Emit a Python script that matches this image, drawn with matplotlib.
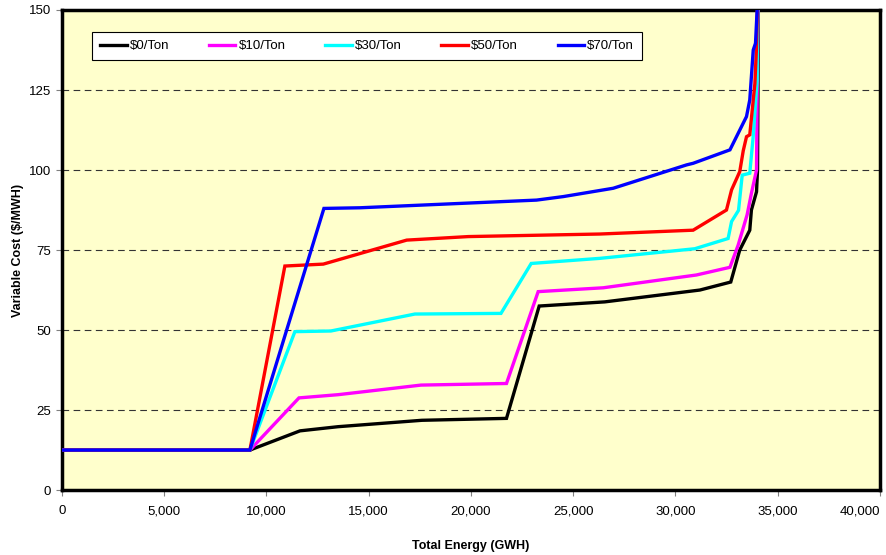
import matplotlib.pyplot as plt
from matplotlib.ticker import FuncFormatter

plt.rcParams['font.family'] = ['Liberation Sans', 'DejaVu Sans']

# supply curves: cumulative energy (GWH) vs variable cost ($/MWH)
x_0 = [0, 9190, 11640, 13500, 17600, 21740, 23340, 26550, 31200, 32710, 33150, 33640, 33720, 33970, 34020, 34060]
y_0 = [12.5, 12.5, 18.5, 19.8, 21.8, 22.4, 57.5, 58.8, 62.5, 65.0, 75.0, 81.2, 87.5, 93.2, 100.0, 150.0]

x_10 = [0, 9190, 11590, 13500, 17560, 21740, 23290, 26470, 31030, 32670, 33070, 33510, 33720, 33970, 34040]
y_10 = [12.5, 12.5, 28.8, 29.8, 32.8, 33.3, 62.0, 63.2, 67.2, 69.6, 76.5, 86.0, 92.7, 100.0, 150.0]

x_30 = [0, 9190, 11390, 13150, 17260, 21470, 22950, 26310, 30950, 32580, 32750, 33090, 33270, 33640, 33800, 34000, 34030]
y_30 = [12.5, 12.5, 49.5, 49.7, 55.0, 55.2, 70.8, 72.4, 75.4, 78.6, 83.9, 87.4, 98.4, 99.0, 110.0, 128.0, 150.0]

x_50 = [0, 9190, 10900, 12780, 16860, 19870, 23860, 26310, 30870, 32500, 32750, 33150, 33320, 33480, 33640, 33890, 33970, 34010]
y_50 = [12.5, 12.5, 70.0, 70.6, 78.1, 79.2, 79.7, 80.0, 81.2, 87.5, 93.8, 99.5, 106.0, 110.4, 111.0, 127.0, 138.5, 150.0]

x_70 = [0, 9190, 12810, 14570, 23210, 24520, 26960, 30550, 30870, 32670, 33480, 33640, 33810, 33920, 34000]
y_70 = [12.5, 12.5, 88.0, 88.2, 90.6, 91.7, 94.3, 101.6, 102.1, 106.3, 116.7, 121.9, 137.5, 139.6, 150.0]

labels = ['$0/Ton', '$10/Ton', '$30/Ton', '$50/Ton', '$70/Ton']
colors = ['#000000', '#FF00FF', '#00FFFF', '#FF0000', '#0000FF']

fig = plt.figure(figsize=(8.86, 5.55), dpi=100)
ax = fig.add_axes([0.070, 0.117, 0.923, 0.865])
ax.set_facecolor('#FFFFCC')

series = [(x_0, y_0), (x_10, y_10), (x_30, y_30), (x_50, y_50), (x_70, y_70)]
for (xs, ys), lab, c in zip(series, labels, colors):
    ax.plot(xs, ys, color=c, lw=2.4, label=lab, solid_joinstyle='miter', zorder=3)

ax.set_xlim(0, 40000)
ax.set_ylim(0, 150)
ax.set_xticks(range(0, 40001, 5000))
ax.set_yticks(range(0, 151, 25))
ax.xaxis.set_major_formatter(FuncFormatter(lambda v, p: f'{int(v):,}'))

for y in range(25, 150, 25):
    ax.axhline(y, color='#333333', lw=0.8, dashes=(6, 4), zorder=1)

for s in ax.spines.values():
    s.set_linewidth(2.5)
    s.set_color('black')

ax.tick_params(axis='both', labelsize=9.5, length=4, width=0.8, color='#808080', direction='out')
ax.tick_params(axis='x', pad=7)
ax.tick_params(axis='y', pad=4)

# keep the last x label inside the figure
fig.canvas.draw()
ax.get_xticklabels()[-1].set_ha('right')

ax.set_xlabel('Total Energy (GWH)', fontsize=9, fontweight='bold', labelpad=16)
ax.set_ylabel('Variable Cost ($/MWH)', fontsize=9, fontweight='bold')
ax.yaxis.set_label_coords(-0.046, 0.5)

leg = ax.legend(loc='upper left', bbox_to_anchor=(0.037, 0.954), ncol=5, fontsize=9.5,
                frameon=True, fancybox=False, handlelength=2.0, handletextpad=0.25,
                columnspacing=3.0, borderpad=0.6, borderaxespad=0)
leg.get_frame().set_edgecolor('black')
leg.get_frame().set_linewidth(0.8)
leg.get_frame().set_facecolor('white')
leg.get_frame().set_alpha(1)

fig.savefig('out.png', dpi=100)
